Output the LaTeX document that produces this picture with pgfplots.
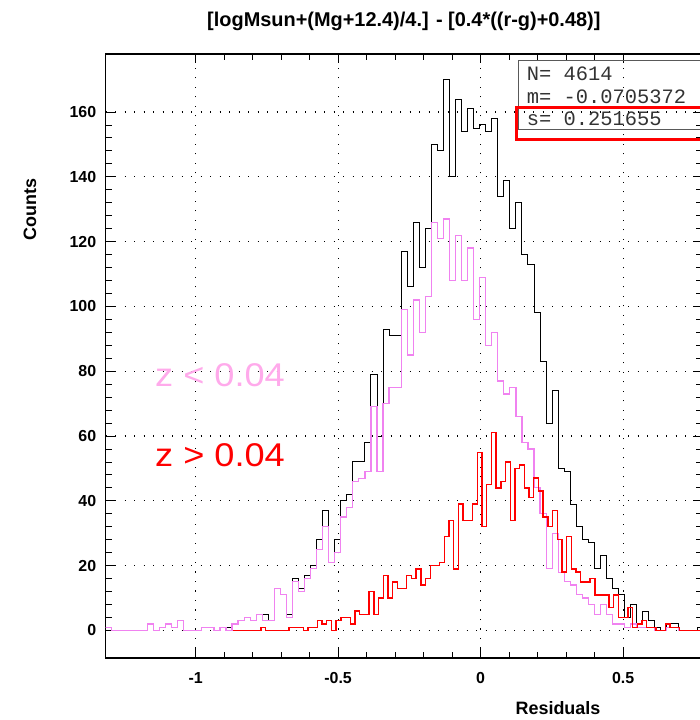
\documentclass[border=0pt]{standalone}
\usepackage{pgfplots}
\pgfplotsset{compat=1.18}
\usepackage{fontspec}
\setmainfont{Liberation Sans}
\setmonofont{Liberation Mono}
\usepackage{graphicx}
\definecolor{histpink}{RGB}{240,130,240}
\definecolor{textpink}{RGB}{255,170,235}

\pgfplotstableread{
x y
-1.3171 1
-1.2959 0
-1.2747 0
-1.2535 0
-1.2323 0
-1.2111 0
-1.1899 0
-1.1687 2
-1.1476 0
-1.1264 1
-1.1052 2
-1.0840 1
-1.0628 3
-1.0416 0
-1.0204 0
-0.9992 0
-0.9780 1
-0.9568 1
-0.9357 0
-0.9145 1
-0.8933 1
-0.8721 2
-0.8509 3
-0.8297 4
-0.8085 3
-0.7873 5
-0.7661 5
-0.7449 3
-0.7238 13
-0.7026 11
-0.6814 5
-0.6602 16
-0.6390 13
-0.6178 17
-0.5966 20
-0.5754 28
-0.5542 37
-0.5330 21
-0.5119 28
-0.4907 40
-0.4695 42
-0.4483 52
-0.4271 52
-0.4059 58
-0.3847 79
-0.3635 60
-0.3423 93
-0.3211 91
-0.3000 91
-0.2788 117
-0.2576 106
-0.2364 126
-0.2152 112
-0.1940 124
-0.1728 150
-0.1516 148
-0.1304 170
-0.1092 140
-0.0881 164
-0.0669 154
-0.0457 161
-0.0245 155
-0.0033 156
0.0179 154
0.0391 158
0.0603 134
0.0815 139
0.1027 124
0.1239 132
0.1450 116
0.1662 113
0.1874 98
0.2086 83
0.2298 64
0.2510 74
0.2722 50
0.2934 49
0.3146 39
0.3358 32
0.3569 28
0.3781 27
0.3993 19
0.4205 23
0.4417 16
0.4629 13
0.4841 11
0.5053 4
0.5265 8
0.5477 2
0.5688 6
0.5900 3
0.6112 1
0.6324 0
0.6536 2
0.6748 2
0.6960 0
0.7172 0
0.7384 0
0.7596 1
0.7808 1
}\allcounts

\pgfplotstableread{
x y
-1.3171 1
-1.2959 0
-1.2747 0
-1.2535 0
-1.2323 0
-1.2111 0
-1.1899 0
-1.1687 2
-1.1476 0
-1.1264 1
-1.1052 2
-1.0840 1
-1.0628 3
-1.0416 0
-1.0204 0
-0.9992 0
-0.9780 1
-0.9568 1
-0.9357 0
-0.9145 1
-0.8933 0
-0.8721 2
-0.8509 3
-0.8297 4
-0.8085 3
-0.7873 5
-0.7661 3
-0.7449 3
-0.7238 13
-0.7026 11
-0.6814 4
-0.6602 15
-0.6390 12
-0.6178 16
-0.5966 19
-0.5754 25
-0.5542 32
-0.5330 21
-0.5119 24
-0.4907 35
-0.4695 38
-0.4483 46
-0.4271 47
-0.4059 49
-0.3847 69
-0.3635 49
-0.3423 70
-0.3211 75
-0.3000 75
-0.2788 99
-0.2576 85
-0.2364 102
-0.2152 92
-0.1940 103
-0.1728 126
-0.1516 121
-0.1304 127
-0.1092 108
-0.0881 122
-0.0669 108
-0.0457 118
-0.0245 96
-0.0033 109
0.0179 88
0.0391 92
0.0603 77
0.0815 73
0.1027 75
0.1239 66
0.1450 58
0.1662 56
0.1874 44
0.2086 36
0.2298 19
0.2510 30
0.2722 18
0.2934 15
0.3146 14
0.3358 11
0.3569 10
0.3781 8
0.3993 5
0.4205 8
0.4417 5
0.4629 2
0.4841 2
0.5053 1
0.5265 2
0.5477 1
0.5688 1
0.5900 1
0.6112 0
0.6324 0
0.6536 1
0.6748 1
0.6960 0
0.7172 0
0.7384 0
0.7596 0
0.7808 0
}\lowz

\pgfplotstableread{
x y
-0.8699 0
-0.8534 0
-0.8369 0
-0.8204 0
-0.8039 0
-0.7873 0
-0.7708 1
-0.7543 0
-0.7378 0
-0.7213 0
-0.7048 0
-0.6883 0
-0.6718 1
-0.6553 1
-0.6388 1
-0.6223 0
-0.6058 1
-0.5893 1
-0.5728 3
-0.5563 2
-0.5398 3
-0.5233 0
-0.5068 3
-0.4903 4
-0.4738 4
-0.4572 2
-0.4407 6
-0.4242 5
-0.4077 5
-0.3912 12
-0.3747 5
-0.3582 10
-0.3417 17
-0.3252 10
-0.3087 15
-0.2922 13
-0.2757 13
-0.2592 17
-0.2427 16
-0.2262 19
-0.2097 14
-0.1932 16
-0.1767 20
-0.1602 20
-0.1437 21
-0.1271 29
-0.1106 34
-0.0941 19
-0.0776 39
-0.0611 34
-0.0446 34
-0.0281 39
-0.0116 55
0.0049 32
0.0214 45
0.0379 61
0.0544 44
0.0709 46
0.0874 52
0.1039 34
0.1204 50
0.1370 51
0.1534 44
0.1699 41
0.1865 47
0.2030 43
0.2195 35
0.2360 32
0.2525 37
0.2690 28
0.2855 18
0.3020 29
0.3185 19
0.3350 18
0.3515 15
0.3680 15
0.3845 16
0.4010 11
0.4175 11
0.4340 11
0.4505 7
0.4670 11
0.4835 4
0.5000 4
0.5166 7
0.5331 1
0.5496 2
0.5661 3
0.5826 1
0.5991 1
0.6156 0
0.6321 0
0.6486 2
0.6651 1
0.6816 1
0.6981 0
0.7146 0
0.7311 0
0.7476 0
0.7641 0
0.7806 0
}\highz

\begin{document}
\begin{tikzpicture}
\begin{axis}[
  scale only axis,
  width=596.3bp, height=604bp,
  xmin=-1.3154, xmax=0.7768,
  ymin=-8.5, ymax=177.9,
  xtick={-1,-0.5,0,0.5},
  xticklabels={-1,-0.5,0,0.5},
  ytick={0,20,40,60,80,100,120,140,160},
  yticklabels={0,20,40,60,80,100,120,140,160},
  minor x tick num=4,
  minor y tick num=4,
  major tick length=9bp,
  minor tick length=6bp,
  tick style={black, line width=0.9bp},
  axis line style={black, line width=1.1bp},
  grid=major,
  major grid style={black, line width=1.2bp, dash pattern=on 1.2bp off 8.3bp},
  tick label style={font=\fontsize{16}{16}\selectfont\bfseries},
  xticklabel style={anchor=center, yshift=-20bp},
  yticklabel style={anchor=east, xshift=-6bp},
  xlabel={Residuals},
  ylabel={Counts},
  label style={font=\fontsize{18}{18}\selectfont\bfseries},
  xlabel style={at={(axis description cs:0.7585,-0.0828)}, anchor=center},
  ylabel style={at={(axis description cs:-0.127,0.742)}, anchor=center},
  title={[logMsun+(Mg+12.4)/4.] - [0.4*((r-g)+0.48)]},
  title style={font=\fontsize{20}{20}\selectfont\bfseries, at={(axis description cs:0.5,1)}, anchor=base, yshift=22bp},
]
\addplot[const plot, black, line width=1bp] table[x=x, y=y] {\allcounts};
\addplot[const plot, histpink, line width=1.2bp] table[x=x, y=y] {\lowz};
\addplot[const plot, red, line width=1.4bp] table[x=x, y=y] {\highz};

\draw[black!65, line width=1bp] (axis cs:0.1327,154.7) rectangle (axis cs:0.95,176.0);
\draw[red, line width=3bp] (axis cs:0.1267,151.6) rectangle (axis cs:0.95,161.4);
\node[anchor=base west, inner sep=0pt, font=\ttfamily\fontsize{20.5}{20.5}\selectfont, text=black!80] at (axis cs:0.1618,169.7) {N= 4614};
\node[anchor=base west, inner sep=0pt, font=\ttfamily\fontsize{20.5}{20.5}\selectfont, text=black!80] at (axis cs:0.1618,162.7) {m= -0.0705372};
\node[anchor=base west, inner sep=0pt, font=\ttfamily\fontsize{20.5}{20.5}\selectfont, text=black!80] at (axis cs:0.1618,155.7) {s= 0.251655};

\node[anchor=base west, inner sep=0pt, text=textpink, font=\fontsize{33}{33}\selectfont] at (axis cs:-1.1425,75.4) {\scalebox{1.1}[1]{z < 0.04}};
\node[anchor=base west, inner sep=0pt, text=red, font=\fontsize{33}{33}\selectfont] at (axis cs:-1.1425,50.7) {\scalebox{1.1}[1]{z > 0.04}};
\end{axis}
\pgfresetboundingbox
\path ([xshift=-105.7bp,yshift=-62bp]current axis.south west) rectangle ([xshift=-2bp,yshift=54bp]current axis.north east);
\end{tikzpicture}
\end{document}
